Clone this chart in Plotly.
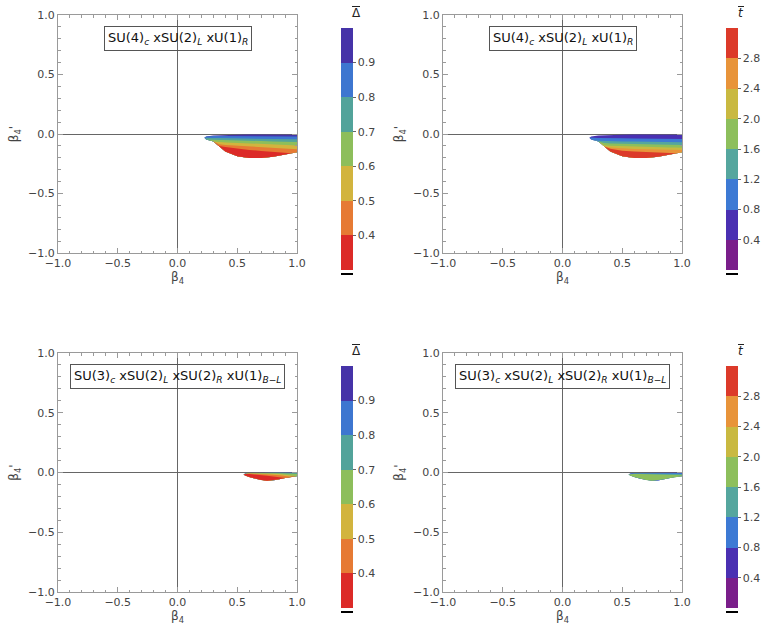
import numpy as np
import plotly.graph_objects as go

W, H = 763, 633

# ---------------- data ----------------
# SU(4) models: outline of the point cloud (beta4, beta4')
x_su4 = [0.225, 0.24, 0.30, 0.35, 0.40, 0.50, 0.60, 0.70, 0.80, 0.90, 0.95, 1.00]
top_su4 = [-0.032, -0.020, -0.013, -0.010, -0.008, -0.006, -0.005, -0.005, -0.005, -0.005, -0.006, -0.006]
bot_su4 = [-0.032, -0.046, -0.062, -0.105, -0.147, -0.187, -0.201, -0.202, -0.191, -0.172, -0.163, -0.153]

# SU(4): Delta-bar level boundaries (0.9, 0.8, 0.7, 0.6, 0.5, 0.4)
d_su4_09 = [-0.015, -0.015, -0.016, -0.016, -0.016, -0.017, -0.017, -0.018, -0.019, -0.020, -0.021, -0.021]
d_su4_08 = [-0.030, -0.031, -0.033, -0.034, -0.035, -0.036, -0.037, -0.039, -0.041, -0.043, -0.044, -0.045]
d_su4_07 = [-0.045, -0.046, -0.049, -0.051, -0.052, -0.054, -0.056, -0.059, -0.062, -0.065, -0.067, -0.068]
d_su4_06 = [-0.062, -0.063, -0.066, -0.069, -0.071, -0.075, -0.078, -0.083, -0.087, -0.092, -0.094, -0.096]
d_su4_05 = [-0.078, -0.079, -0.083, -0.087, -0.092, -0.099, -0.106, -0.112, -0.117, -0.122, -0.125, -0.128]
d_su4_04 = [-0.090, -0.091, -0.095, -0.100, -0.110, -0.123, -0.134, -0.142, -0.150, -0.158, -0.162, -0.166]

# SU(4): t-bar level boundaries (0.8, 1.2, 1.6, 2.0, 2.4, 2.8)
t_su4_08 = [-0.028, -0.029, -0.033, -0.035, -0.036, -0.036, -0.037, -0.038, -0.040, -0.041, -0.042, -0.042]
t_su4_12 = [-0.050, -0.051, -0.056, -0.059, -0.061, -0.063, -0.064, -0.066, -0.067, -0.069, -0.070, -0.070]
t_su4_16 = [-0.066, -0.067, -0.072, -0.076, -0.079, -0.082, -0.084, -0.087, -0.089, -0.091, -0.092, -0.092]
t_su4_20 = [-0.082, -0.083, -0.089, -0.095, -0.099, -0.103, -0.106, -0.109, -0.111, -0.113, -0.114, -0.115]
t_su4_24 = [-0.094, -0.095, -0.100, -0.106, -0.113, -0.121, -0.126, -0.129, -0.131, -0.133, -0.134, -0.134]
t_su4_28 = [-0.102, -0.103, -0.107, -0.112, -0.125, -0.140, -0.148, -0.152, -0.156, -0.159, -0.161, -0.162]

# SU(3) left-right models: outline of the point cloud
x_su3 = [0.555, 0.57, 0.60, 0.65, 0.70, 0.75, 0.80, 0.85, 0.90, 0.95, 1.00]
top_su3 = [-0.014, -0.007, -0.004, -0.003, -0.003, -0.003, -0.003, -0.003, -0.003, -0.003, -0.004]
bot_su3 = [-0.018, -0.027, -0.038, -0.052, -0.063, -0.069, -0.066, -0.057, -0.046, -0.036, -0.031]

# SU(3): Delta-bar level boundaries
d_su3_09 = [-0.001, -0.001, -0.001, -0.001, -0.001, -0.001, -0.001, -0.001, -0.001, -0.001, -0.001]
d_su3_08 = [-0.015, -0.008, -0.006, -0.004, -0.003, -0.003, -0.003, -0.003, -0.003, -0.003, -0.003]
d_su3_07 = [-0.016, -0.010, -0.007, -0.006, -0.005, -0.005, -0.006, -0.007, -0.009, -0.011, -0.013]
d_su3_06 = [-0.016, -0.011, -0.008, -0.007, -0.007, -0.008, -0.010, -0.013, -0.018, -0.023, -0.028]
d_su3_05 = [-0.017, -0.012, -0.009, -0.010, -0.012, -0.015, -0.019, -0.024, -0.031, -0.038, -0.045]
d_su3_04 = [-0.017, -0.013, -0.013, -0.016, -0.021, -0.027, -0.034, -0.042, -0.050, -0.060, -0.065]

# SU(3): t-bar level boundaries
t_su3_08 = [-0.013, -0.008, -0.006, -0.005, -0.005, -0.005, -0.005, -0.005, -0.005, -0.005, -0.006]
t_su3_12 = [-0.015, -0.011, -0.009, -0.008, -0.008, -0.008, -0.008, -0.009, -0.010, -0.011, -0.013]
t_su3_16 = [-0.016, -0.013, -0.012, -0.012, -0.013, -0.014, -0.015, -0.016, -0.018, -0.020, -0.024]
t_su3_20 = [-0.100, -0.100, -0.100, -0.100, -0.100, -0.100, -0.100, -0.100, -0.100, -0.100, -0.100]
t_su3_24 = [-0.100, -0.100, -0.100, -0.100, -0.100, -0.100, -0.100, -0.100, -0.100, -0.100, -0.100]
t_su3_28 = [-0.100, -0.100, -0.100, -0.100, -0.100, -0.100, -0.100, -0.100, -0.100, -0.100, -0.100]

# colour legends
delta_ticks = [0.4, 0.5, 0.6, 0.7, 0.8, 0.9]
delta_range = [0.3, 1.0]
delta_colors = ["#dc2a28", "#e67a34", "#d2b43e", "#8dbe5b", "#52a39a", "#3d76d0", "#4633a8"]  # low -> high
t_ticks = [0.4, 0.8, 1.2, 1.6, 2.0, 2.4, 2.8]
t_range = [0.0, 3.2]
t_colors = ["#7a1e8a", "#4a30b2", "#3d7ad4", "#55a69e", "#8dbf5c", "#c9b941", "#e8943a", "#dc3a2a"]  # low -> high

label_su4 = "SU(4)<sub><i>c</i></sub> xSU(2)<sub><i>L</i></sub> xU(1)<sub><i>R</i></sub>"
label_su3 = "SU(3)<sub><i>c</i></sub> xSU(2)<sub><i>L</i></sub> xSU(2)<sub><i>R</i></sub> xU(1)<sub><i>B\u2212L</i></sub>"

# ---------------- layout helpers ----------------
FONT = "DejaVu Sans"
TXT = "#444444"
FRAME = "#9a9a9a"


def band_polygons(xs, top, bot, bounds):
    """Stacked regions: region i spans from its upper level down to the cloud bottom;
    drawn in order, each lower band covers the previous one (no seams)."""
    xs = np.asarray(xs, float)
    top = np.asarray(top, float)
    bot = np.asarray(bot, float)
    polys = []
    for i in range(len(bounds) + 1):
        up = top if i == 0 else np.minimum(top, np.asarray(bounds[i - 1], float))
        up = np.clip(up, bot, top)
        if np.all(up - bot <= 1e-9):
            continue
        px = np.concatenate([xs, xs[::-1]])
        py = np.concatenate([up, bot[::-1]])
        polys.append((i, px, py))
    return polys


t_band_colors = t_colors[1:]         # top of cloud (low t, indigo) ... bottom (high t, red)
d_band_colors = delta_colors[::-1]   # top of cloud (high Delta, indigo) ... bottom (low, red)

panels = [
    dict(px=(58, 297), py=(15, 253), xs=x_su4, top=top_su4, bot=bot_su4,
         bounds=[d_su4_09, d_su4_08, d_su4_07, d_su4_06, d_su4_05, d_su4_04],
         colors=d_band_colors, scale="delta", cb_x=341, cb_y=(28, 270),
         label=label_su4, label_xy=(0.0, 0.80)),
    dict(px=(443, 682), py=(15, 253), xs=x_su4, top=top_su4, bot=bot_su4,
         bounds=[t_su4_08, t_su4_12, t_su4_16, t_su4_20, t_su4_24, t_su4_28],
         colors=t_band_colors, scale="t", cb_x=726, cb_y=(28, 270),
         label=label_su4, label_xy=(0.0, 0.80)),
    dict(px=(58, 297), py=(353, 592), xs=x_su3, top=top_su3, bot=bot_su3,
         bounds=[d_su3_09, d_su3_08, d_su3_07, d_su3_06, d_su3_05, d_su3_04],
         colors=d_band_colors, scale="delta", cb_x=341, cb_y=(366, 608),
         label=label_su3, label_xy=(0.0, 0.80)),
    dict(px=(443, 682), py=(353, 592), xs=x_su3, top=top_su3, bot=bot_su3,
         bounds=[t_su3_08, t_su3_12, t_su3_16, t_su3_20, t_su3_24, t_su3_28],
         colors=t_band_colors, scale="t", cb_x=726, cb_y=(366, 608),
         label=label_su3, label_xy=(0.0, 0.80)),
]


def discrete_scale(colors):
    n = len(colors)
    cs = []
    for i, c in enumerate(colors):
        cs.append([i / n, c])
        cs.append([(i + 1) / n, c])
    return cs


fig = go.Figure()
layout = dict(width=W, height=H, margin=dict(l=0, r=0, t=0, b=0, autoexpand=False),
              paper_bgcolor="white", plot_bgcolor="white", showlegend=False,
              annotations=[], shapes=[])

for k, p in enumerate(panels, start=1):
    xa = "x" if k == 1 else f"x{k}"
    ya = "y" if k == 1 else f"y{k}"
    xkey = "xaxis" if k == 1 else f"xaxis{k}"
    ykey = "yaxis" if k == 1 else f"yaxis{k}"

    # colour bands of the point cloud
    for i, px_, py_ in band_polygons(p["xs"], p["top"], p["bot"], p["bounds"]):
        c = p["colors"][i]
        fig.add_trace(go.Scatter(x=px_, y=py_, xaxis=xa, yaxis=ya, mode="lines", fill="toself",
                                 fillcolor=c, line=dict(color=c, width=0), hoverinfo="skip"))

    # colour bar carrier
    if p["scale"] == "delta":
        cols, rng, ticks = delta_colors, delta_range, delta_ticks
    else:
        cols, rng, ticks = t_colors, t_range, t_ticks
    cy0, cy1 = p["cb_y"]
    fig.add_trace(go.Scatter(
        x=[None], y=[None], xaxis=xa, yaxis=ya, mode="markers", hoverinfo="skip",
        marker=dict(color=[rng[0]], cmin=rng[0], cmax=rng[1], colorscale=discrete_scale(cols),
                    showscale=True,
                    colorbar=dict(x=p["cb_x"] / W, xanchor="left", y=1 - (cy0 + cy1) / 2 / H,
                                  yanchor="middle", len=cy1 - cy0, lenmode="pixels",
                                  thickness=12, thicknessmode="pixels", outlinewidth=0,
                                  xpad=0, ypad=0, tickvals=ticks,
                                  ticktext=[f"{v:.1f}" for v in ticks], ticks="outside",
                                  ticklen=3, tickcolor="#666",
                                  tickfont=dict(family=FONT, size=11, color=TXT)))))
    layout["shapes"].append(dict(type="line", xref="paper", yref="paper",
                                 x0=p["cb_x"] / W, x1=(p["cb_x"] + 12) / W,
                                 y0=1 - (cy1 + 4) / H, y1=1 - (cy1 + 4) / H,
                                 line=dict(color="black", width=2)))
    # colour-bar heading with an overbar
    hx = p["cb_x"] + 15
    hy = cy0 - 15
    layout["annotations"].append(dict(
        xref="paper", yref="paper", x=hx / W, y=1 - hy / H, xanchor="center", yanchor="middle",
        text="\u0394" if p["scale"] == "delta" else "<i>t</i>", showarrow=False,
        font=dict(family=FONT, size=12, color="#222")))
    half = 4 if p["scale"] == "delta" else 3
    layout["shapes"].append(dict(type="line", xref="paper", yref="paper",
                                 x0=(hx - half) / W, x1=(hx + half) / W,
                                 y0=1 - (hy - 6.5) / H, y1=1 - (hy - 6.5) / H,
                                 line=dict(color="#222", width=1)))

    # model label
    layout["annotations"].append(dict(
        xref=xa, yref=ya, x=p["label_xy"][0], y=p["label_xy"][1], text=p["label"],
        showarrow=False, bordercolor="#555", borderwidth=1, borderpad=3,
        font=dict(family=FONT, size=13, color="#111")))

    axcommon = dict(range=[-1, 1], showgrid=False, zeroline=True, zerolinecolor="#666",
                    zerolinewidth=1, showline=True, linecolor=FRAME, linewidth=1,
                    mirror="ticks", ticks="inside", ticklen=5, tickcolor=FRAME,
                    tickvals=[-1, -0.5, 0, 0.5, 1], tickformat=".1f", automargin=False,
                    minor=dict(dtick=0.1, ticks="inside", ticklen=2.5, tickcolor=FRAME),
                    tickfont=dict(family=FONT, size=11, color=TXT))
    layout[xkey] = dict(axcommon, domain=[p["px"][0] / W, p["px"][1] / W], anchor=ya,
                        title=dict(text="\u03b2<sub>4</sub>", standoff=2,
                                   font=dict(family=FONT, size=12, color=TXT)))
    layout[ykey] = dict(axcommon, domain=[1 - p["py"][1] / H, 1 - p["py"][0] / H], anchor=xa,
                        title=dict(text="\u03b2<sub>4</sub>'", standoff=6,
                                   font=dict(family=FONT, size=12, color=TXT)))

fig.update_layout(**layout)
fig.write_html("out.html", config={"displayModeBar": False},
               post_script="document.body.style.margin='0';document.body.style.overflow='hidden';")
